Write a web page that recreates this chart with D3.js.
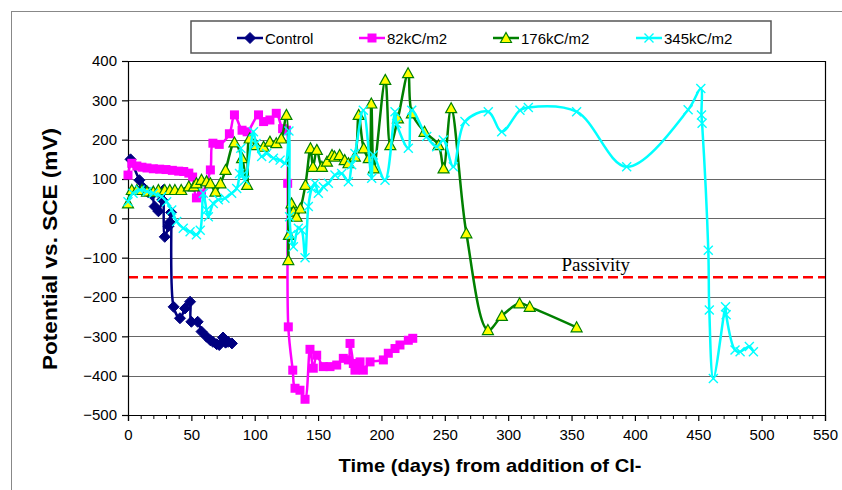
<!DOCTYPE html>
<html><head><meta charset="utf-8">
<script src="https://cdn.jsdelivr.net/npm/d3@7"></script>
<style>
html,body{margin:0;padding:0;background:#fff;}
svg{display:block;}
</style></head>
<body>
<svg id="chart" width="842" height="490"></svg>
<script>
// ---------- DATA ----------
const seriesNames = ["Control", "82kC/m2", "176kC/m2", "345kC/m2"];
const xTicks = [0,50,100,150,200,250,300,350,400,450,500,550];
const yTicks = [-500,-400,-300,-200,-100,0,100,200,300,400];
const passivityLevel = -150;
const passivityLabel = "Passivity";
const xTitle = "Time (days) from addition of Cl-";
const yTitle = "Potential vs. SCE (mV)";

const control = [[2,150],[9,97],[12,78],[16,66],[19,60],[21,30],[24,18],[27,47],[28,72],[29,-47],[32,-20],[33,-10],[34,15],[36,-225],[41,-254],[45,-229],[49,-212],[50,-263],[55,-263],[58,-288],[62,-301],[65,-310],[67,-314],[70,-320],[72,-322],[75,-303],[77,-316],[79,-314],[82,-318]];

const kc82 = [[0,110],[3,140],[7,133],[11,130],[15,128],[20,126],[25,125],[30,124],[35,122],[40,120],[44,119],[48,115],[51,105],[54,52],[58,62],[65,123],[67,191],[72,188],[80,215],[84,263],[90,224],[94,220],[103,263],[107,246],[112,250],[117,267],[122,228],[125,224],[126,89],[126.5,-276],[130,-386],[131.8,-432],[135.7,-437],[139.7,-460],[143.6,-333],[146.2,-381],[148.9,-348],[154.1,-377],[159.4,-377],[164.7,-373],[169.9,-356],[173.9,-360],[175.2,-318],[177.8,-369],[179.1,-386],[183.1,-365],[185.7,-386],[191,-365],[201.5,-360],[205.4,-343],[210.7,-331],[214.6,-322],[221.2,-310],[224.7,-305]];

const kc176 = [[0,38],[3,72],[7,72],[11,72],[15,68],[20,68],[24,72],[29,72],[33,72],[37,72],[42,72],[48,81],[52,81],[54,89],[58,98],[62,94],[65,89],[69,68],[73,89],[77,123],[84,193],[90,153],[94,85],[96,203],[101,186],[107,182],[112,195],[117,191],[121,203],[125,263],[126.5,-106],[127,-42],[129,38],[130.5,17],[133,4],[136,25],[140,85],[144,178],[146,131],[149,174],[153,131],[157,144],[161,161],[163,157],[167,161],[171,148],[174,140],[179,157],[182,263],[186,178],[190,153],[192,292],[194,127],[203,352],[207,186],[213,254],[221,369],[224,267],[234,220],[245,186],[249,127],[255,280],[267,-38],[284,-284],[295,-248],[309,-216],[317,-225],[354,-277]];

const kc345 = [[0,42],[4,64],[9.5,72],[15,68],[20,64],[26.6,55],[30.5,42],[34.5,21],[38.4,-8],[43.6,-25],[49,-34],[54,-42],[57,-30],[59.4,64],[62,21],[63.4,4],[67.3,38],[71.3,47],[76.5,51],[81.8,64],[85.8,76],[88,114],[89,178],[90.5,110],[92.3,97],[99,220],[101,190],[105.5,157],[109.4,165],[114.7,153],[120,148],[124,140],[127,222],[127.5,4],[128.5,-42],[130.5,-72],[134.4,-25],[137,-30],[139.7,-100],[142.3,30],[145,76],[147.6,89],[150.2,64],[154.1,80],[158.1,89],[163.3,110],[168.6,114],[173.9,93],[176.5,136],[179.1,165],[185.7,275],[192.3,102],[193.6,161],[202.8,97],[210.7,271],[212,241],[221.2,178],[223.9,275],[235.7,208],[243.6,182],[248.8,199],[256.7,131],[265.9,246],[284.3,271],[294.9,220],[309.3,275],[315.9,282],[354,271],[393.5,131],[442,276],[452,330],[452.5,263],[453,242],[457.9,-81],[458.7,-233],[461.9,-407],[471.5,-225],[472,-245],[479,-335],[483,-339],[490.3,-326],[493.5,-339]];

// ---------- LAYOUT ----------
const svg = d3.select("#chart");
const M = {left:128, right:825, top:61, bottom:415};
const x = d3.scaleLinear().domain([0,550]).range([M.left, M.right]);
const y = d3.scaleLinear().domain([-500,400]).range([M.bottom, M.top]);

// outer frame
svg.append("rect").attr("x",11.5).attr("y",11.5).attr("width",840).attr("height",490)
  .attr("fill","none").attr("stroke","#888").attr("stroke-width",1);

// gridlines
svg.append("g").selectAll("line").data(yTicks.filter(v=>v>-500 && v<400)).join("line")
  .attr("x1",M.left).attr("x2",M.right)
  .attr("y1",d=>Math.round(y(d))+0.5).attr("y2",d=>Math.round(y(d))+0.5)
  .attr("stroke","#666").attr("stroke-width",1);

// plot border (top, right)
svg.append("path")
  .attr("d",`M${M.left},${M.top+0.5}H${M.right+0.5}V${M.bottom}`)
  .attr("fill","none").attr("stroke","#000").attr("stroke-width",1.2);

// passivity line
svg.append("line")
  .attr("x1",M.left).attr("x2",M.right)
  .attr("y1",y(passivityLevel)).attr("y2",y(passivityLevel))
  .attr("stroke","#ff0000").attr("stroke-width",2.5).attr("stroke-dasharray","10,5");
svg.append("text").attr("x",x(342)).attr("y",y(passivityLevel)-6)
  .attr("font-family","'Liberation Serif','Times New Roman',serif").attr("font-size",19)
  .attr("fill","#000").text(passivityLabel);

// axes
const xAxis = d3.axisBottom(x).tickValues(xTicks).tickSize(6).tickFormat(d3.format("d"));
const gx = svg.append("g").attr("transform",`translate(0,${M.bottom})`).call(xAxis);
const minor = d3.range(0,551,10).filter(v=>v%50!==0);
svg.append("g").attr("transform",`translate(0,${M.bottom})`)
  .call(d3.axisBottom(x).tickValues(minor).tickSize(4).tickFormat(""))
  .call(g=>g.select(".domain").remove());
const yAxis = d3.axisLeft(y).tickValues(yTicks).tickSize(6).tickFormat(d3.format("d"));
const gy = svg.append("g").attr("transform",`translate(${M.left},0)`).call(yAxis);
[gx,gy].forEach(g=>{
  g.selectAll("text").attr("font-family","'Liberation Sans',Arial,sans-serif").attr("font-size",15).attr("fill","#000");
  g.selectAll("line,path").attr("stroke","#000").attr("stroke-width",1.2);
});
gx.selectAll("text").attr("dy","1.05em");
gy.selectAll("text").attr("dx","-2");
svg.selectAll(".tick line").attr("stroke","#000");

// axis titles
svg.append("text").attr("x",490).attr("y",472).attr("text-anchor","middle")
  .attr("font-family","'Liberation Sans',Arial,sans-serif").attr("font-weight","bold")
  .attr("font-size",19).attr("textLength",303).attr("lengthAdjust","spacingAndGlyphs").text(xTitle);
svg.append("text").attr("transform","translate(57,249) rotate(-90)").attr("text-anchor","middle")
  .attr("font-family","'Liberation Sans',Arial,sans-serif").attr("font-weight","bold")
  .attr("font-size",20).attr("textLength",242).attr("lengthAdjust","spacingAndGlyphs").text(yTitle);

// series
const styles = [
  {data:control, color:"#000080", marker:"diamond"},
  {data:kc82, color:"#ff00ff", marker:"square"},
  {data:kc176, color:"#008000", marker:"triangle"},
  {data:kc345, color:"#00ffff", marker:"x"}
];
const line = d3.line().x(d=>x(d[0])).y(d=>y(d[1])).curve(d3.curveCatmullRom.alpha(0.5));

function drawMarker(g, type, color){
  if(type==="diamond"){
    g.append("path").attr("d","M0,-5.5L5.5,0L0,5.5L-5.5,0Z").attr("fill",color).attr("stroke",color);
  } else if(type==="square"){
    g.append("rect").attr("x",-4.5).attr("y",-4.5).attr("width",9).attr("height",9).attr("fill",color);
  } else if(type==="triangle"){
    g.append("path").attr("d","M0,-5.5L5.5,4.5L-5.5,4.5Z").attr("fill","#ffff00").attr("stroke",color).attr("stroke-width",1.2);
  } else {
    g.append("path").attr("d","M-4.5,-4.5L4.5,4.5M-4.5,4.5L4.5,-4.5").attr("stroke",color).attr("stroke-width",1.4).attr("fill","none");
  }
}

styles.forEach(s=>{
  const g = svg.append("g");
  g.append("path").datum(s.data).attr("d",line).attr("fill","none")
    .attr("stroke",s.color).attr("stroke-width",2.5);
  g.selectAll("g.m").data(s.data).join("g").attr("class","m")
    .attr("transform",d=>`translate(${x(d[0])},${y(d[1])})`)
    .each(function(){ drawMarker(d3.select(this), s.marker, s.color); });
});

// legend
const lg = svg.append("g");
lg.append("rect").attr("x",191).attr("y",21).attr("width",580).attr("height",32)
  .attr("fill","#fff").attr("stroke","#555").attr("stroke-width",1.5);
const legendX = [237,359,493,636];
styles.forEach((s,i)=>{
  const gi = lg.append("g").attr("transform",`translate(${legendX[i]},38)`);
  gi.append("line").attr("x1",0).attr("x2",26).attr("stroke",s.color).attr("stroke-width",2.5);
  drawMarker(gi.append("g").attr("transform","translate(13,0)"), s.marker, s.color);
  gi.append("text").attr("x",28).attr("y",5.5)
    .attr("font-family","'Liberation Sans',Arial,sans-serif").attr("font-size",15).text(seriesNames[i]);
});
</script>
</body></html>
